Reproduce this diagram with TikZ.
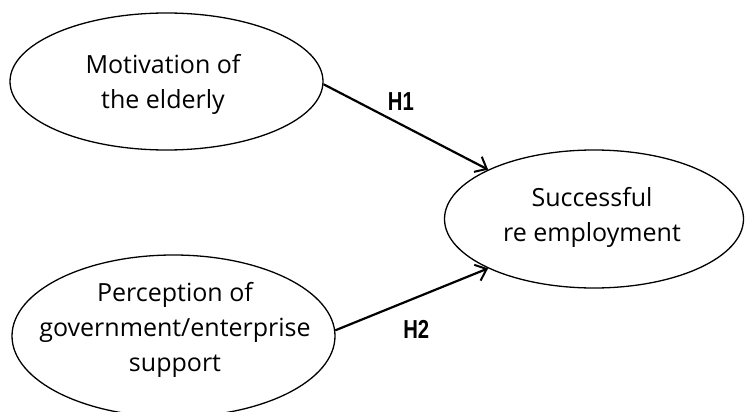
\documentclass[tikz,border=0pt]{standalone}
\usepackage{fontspec}
\setmainfont{Open Sans}
\newfontfamily\hypfont{Liberation Sans}
\usetikzlibrary{shapes.geometric,positioning,arrows.meta}
\newcommand{\hypname}[1]{\scalebox{.78}[1]{#1}}

\begin{document}
\begin{tikzpicture}[x=1pt, y=-1pt,
    latent/.style = {ellipse, draw, line width=1.3pt, inner sep=0pt},
    caption/.style = {align=center, font=\fontsize{25}{35}\selectfont},
    hyp/.style = {-{Straight Barb[length=10pt, width=17pt, line width=2pt]}, line width=2.2pt},
    hyplabel/.style = {font=\hypfont\bfseries\fontsize{26}{26}\selectfont}]
  \useasboundingbox (0, 0) rectangle (745, 412);
  % the three constructs
  \node[latent, minimum width=313pt, minimum height=137pt] (motiv) at (166.5, 81.5) {};
  \node[caption] (motiv-text) at (163, 84) {Motivation of\\the elderly};
  \node[latent, minimum width=323pt, minimum height=162pt] (percep) at (173.5, 336) {};
  \node[caption] (percep-text) at (175, 330) {Perception of\\government/enterprise\\support};
  \node[latent, minimum width=299pt, minimum height=138pt] (success) at (594, 219) {};
  \node[caption] (success-text) at (592, 217) {Successful\\re employment};
  % hypotheses
  \draw[hyp] (motiv.-1) -- (success.155) node[hyplabel, pos=.47, yshift=23pt] (h1) {\hypname{H1}};
  \draw[hyp] (percep.2) -- (success.205.5) node[hyplabel, pos=.53, yshift=-32pt] (h2) {\hypname{H2}};
\end{tikzpicture}
\end{document}
